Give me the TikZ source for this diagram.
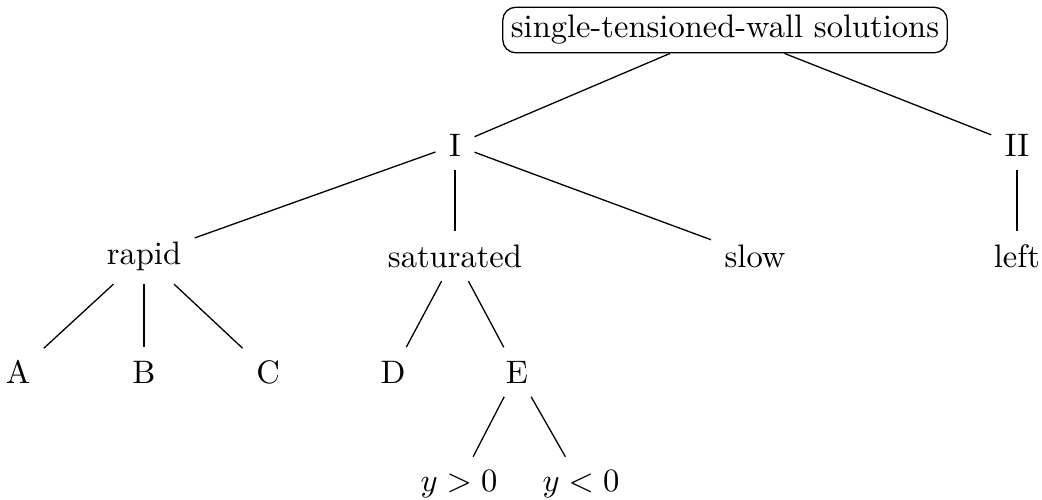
\documentclass[tikz,border=0pt]{standalone}
\usepackage{tikz}
\tikzset{
  tw root/.style={
    rectangle,
    rounded corners=4pt,
    draw=black,
    inner sep=2.5pt,
  },
  tw leaf/.style={inner sep=4pt},
  tw edge/.style={thin},
}

\begin{document}
\begin{tikzpicture}[x=0.0108cm,y=-0.0108cm]
  \useasboundingbox (0,0) rectangle (1042,499);

  \node[tw root] (root) at (725,30) {single-tensioned-wall solutions};
  \node[tw leaf] (I) at (455,145) {I};
  \node[tw leaf] (II) at (1017,145) {II};

  \node[tw leaf] (rapid) at (144,256) {rapid};
  \node[tw leaf] (sat) at (455,256) {saturated};
  \node[tw leaf] (slow) at (755,256) {slow};
  \node[tw leaf] (left) at (1017,256) {left};

  \node[tw leaf] (A) at (18,372) {A};
  \node[tw leaf] (B) at (144,372) {B};
  \node[tw leaf] (C) at (268,372) {C};
  \node[tw leaf] (D) at (393,372) {D};
  \node[tw leaf] (E) at (517,372) {E};

  \node[tw leaf] (ypos) at (459,484) {$y>0$};
  \node[tw leaf] (yneg) at (581,484) {$y<0$};

  \draw[tw edge] (root) -- (I);
  \draw[tw edge] (root) -- (II);
  \draw[tw edge] (I) -- (rapid);
  \draw[tw edge] (I) -- (sat);
  \draw[tw edge] (I) -- (slow);
  \draw[tw edge] (II) -- (left);
  \draw[tw edge] (rapid) -- (A);
  \draw[tw edge] (rapid) -- (B);
  \draw[tw edge] (rapid) -- (C);
  \draw[tw edge] (sat) -- (D);
  \draw[tw edge] (sat) -- (E);
  \draw[tw edge] (E) -- (ypos);
  \draw[tw edge] (E) -- (yneg);
\end{tikzpicture}
\end{document}
